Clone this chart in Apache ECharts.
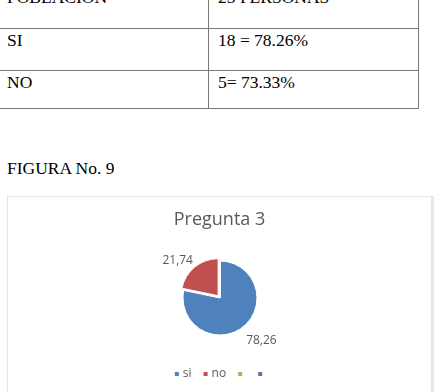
<!DOCTYPE html>
<html>
<head>
<meta charset="utf-8">
<script src="https://cdn.jsdelivr.net/npm/echarts@6/dist/echarts.min.js"></script>
<style>
  html, body { margin: 0; padding: 0; background: #fff; width: 436px; height: 392px; overflow: hidden; position: relative; }
  .doc { position: absolute; font-family: "Liberation Serif", "DejaVu Serif", serif; font-size: 17.5px; line-height: 20px; color: #000; white-space: nowrap; }
  .hl { position: absolute; left: 0; width: 418px; height: 1px; background: #777; }
  .vl { position: absolute; width: 1px; background: #777; }
  #main { position: absolute; left: 7px; top: 196px; width: 425px; height: 210px; border: 1px solid #e4e4e4; box-sizing: border-box; box-shadow: 2px 0 0 #e8e8e8; }
</style>
</head>
<body>
<!-- tabla (parte visible) -->
<div class="doc" style="left:7px; top:-13px;">POBLACION</div>
<div class="doc" style="left:218px; top:-13px;">25 PERSONAS</div>
<div class="hl" style="top:28px;"></div>
<div class="hl" style="top:70px;"></div>
<div class="hl" style="top:108px;"></div>
<div class="vl" style="left:208px; top:0; height:109px;"></div>
<div class="vl" style="left:418px; top:0; height:109px;"></div>
<div class="doc" style="left:7px; top:30px;">SI</div>
<div class="doc" style="left:218px; top:30px;">18 = 78.26%</div>
<div class="doc" style="left:7px; top:72px;">NO</div>
<div class="doc" style="left:218px; top:72px;">5= 73.33%</div>

<div class="doc" style="left:7px; top:158px;">FIGURA No. 9</div>

<div id="main"></div>

<script>
// datos
var categorias = ['si', 'no', '\u200b', '\u200b\u200b'];
var valores = [78.26, 21.74, 0, 0];
var colores = ['#4f81bd', '#c0504d', '#9bbb59', '#8064a2'];
var titulo = 'Pregunta 3';

var datos = categorias.map(function (c, i) {
    var d = { name: c, value: valores[i], itemStyle: { color: colores[i] } };
    if (valores[i] === 0) d.label = { show: false };
    if (i === 1) d.selected = true;
    return d;
});

var myChart = echarts.init(document.getElementById('main'));
myChart.setOption({
    animation: false,
    title: {
        text: titulo,
        left: 'center',
        top: 9,
        textStyle: { fontFamily: 'Open Sans', fontSize: 18, fontWeight: 'normal', color: '#595959' }
    },
    legend: {
        top: 166,
        left: 'center',
        itemWidth: 6,
        itemHeight: 6,
        itemGap: 10,
        icon: 'rect',
        data: categorias,
        textStyle: { fontFamily: 'Open Sans', fontSize: 12, color: '#595959', padding: [0, 0, 0, -2] }
    },
    series: [{
        type: 'pie',
        center: [212, 101],
        radius: 37,
        startAngle: 90,
        clockwise: true,
        selectedMode: 'single',
        selectedOffset: 3,
        itemStyle: { borderColor: '#fff', borderWidth: 1 },
        label: {
            position: 'outside',
            fontFamily: 'Open Sans',
            fontSize: 12,
            color: '#595959',
            formatter: function (p) { return p.value.toFixed(2).replace('.', ','); }
        },
        labelLine: { show: false, length: 6, length2: 0 },
        labelLayout: function (p) {
            // pequeño ajuste de las etiquetas
            return p.dataIndex === 0 ? { dx: -6, dy: 9 } : { dx: 7, dy: -2 };
        },
        data: datos
    }]
});
</script>
</body>
</html>
